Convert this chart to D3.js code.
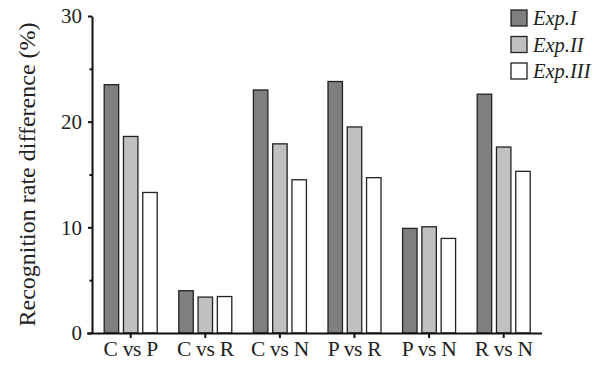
<!DOCTYPE html>
<html>
<head>
<meta charset="utf-8">
<script src="https://cdn.jsdelivr.net/npm/d3@7"></script>
<style>
  body { margin: 0; background: #fff; }
  svg { display: block; }
  text { font-family: "Liberation Serif", "Times New Roman", serif; fill: #222; }
</style>
</head>
<body>
<div id="chart"></div>
<script>
const width = 603;
const height = 365;

// data
const categories = ["C vs P", "C vs R", "C vs N", "P vs R", "P vs N", "R vs N"];
const series = ["Exp.I", "Exp.II", "Exp.III"];
const expI = [23.5, 4.0, 23.0, 23.8, 9.9, 22.6];
const expII = [18.6, 3.4, 17.9, 19.5, 10.05, 17.6];
const expIII = [13.3, 3.45, 14.5, 14.7, 8.95, 15.3];
const yTicks = [0, 10, 20, 30];
const yMinorTicks = [5, 15, 25];
const fills = ["#7f7f7f", "#c0c0c0", "#ffffff"];

const values = [expI, expII, expIII];
const rows = categories.map((c, i) => ({
    cat: c,
    vals: series.map((s, j) => ({ key: s, value: values[j][i], color: fills[j] }))
}));

const svg = d3.select("#chart")
    .append("svg")
    .attr("width", width)
    .attr("height", height);

const y = d3.scaleLinear()
    .domain([0, 30])
    .range([333, 16]);

const x = d3.scaleBand()
    .domain(categories)
    .range([93.4, 541])
    .padding(0);

const xInner = d3.scaleBand()
    .domain(series)
    .range([-26.5, 26.5])
    .paddingInner(0.25);

// bars
const groups = svg.append("g")
    .selectAll("g")
    .data(rows)
    .enter().append("g")
    .attr("transform", d => `translate(${x(d.cat) + x.bandwidth() / 2},0)`);

groups.selectAll("rect")
    .data(d => d.vals)
    .enter().append("rect")
    .attr("x", d => xInner(d.key))
    .attr("width", xInner.bandwidth())
    .attr("y", d => y(d.value))
    .attr("height", d => y(0) - y(d.value))
    .attr("fill", d => d.color)
    .attr("stroke", "#222")
    .attr("stroke-width", 1.3);

// y axis
const yAxis = svg.append("g")
    .attr("transform", "translate(92,0)")
    .call(d3.axisLeft(y).tickValues(yTicks).tickSize(4).tickSizeOuter(0).tickPadding(6));
yAxis.select(".domain").attr("stroke", "#111").attr("stroke-width", 2);
yAxis.selectAll(".tick line").attr("stroke", "#111").attr("stroke-width", 2);
yAxis.selectAll(".tick text")
    .style("font-family", "'Liberation Serif', serif")
    .style("font-size", "21px")
    .attr("fill", "#222");

svg.append("g")
    .attr("transform", "translate(92,0)")
    .call(d3.axisLeft(y).tickValues(yMinorTicks).tickSize(2.5).tickFormat(""))
    .call(g => g.select(".domain").remove())
    .selectAll(".tick line").attr("stroke", "#111").attr("stroke-width", 2);

// x axis
const xAxis = svg.append("g")
    .attr("transform", `translate(0,${y(0)})`)
    .call(d3.axisBottom(x).tickSize(5).tickSizeOuter(0).tickPadding(3));
xAxis.select(".domain")
    .attr("d", "M87,0.5H542")
    .attr("stroke", "#111").attr("stroke-width", 2);
xAxis.selectAll(".tick line").attr("stroke", "#111").attr("stroke-width", 2);
xAxis.selectAll(".tick text")
    .style("font-family", "'Liberation Serif', serif")
    .style("font-size", "21.5px")
    .style("letter-spacing", "-0.3px")
    .attr("fill", "#222");

// y label
svg.append("text")
    .attr("transform", `translate(35,${(y(0) + y(30)) / 2}) rotate(-90)`)
    .attr("text-anchor", "middle")
    .style("font-size", "24px")
    .text("Recognition rate difference (%)");

// legend
const legend = svg.append("g")
    .attr("transform", "translate(511,10)")
    .selectAll("g")
    .data(series)
    .enter().append("g")
    .attr("transform", (d, i) => `translate(0,${i * 26.5})`);

legend.append("rect")
    .attr("width", 16)
    .attr("height", 16)
    .attr("fill", (d, i) => fills[i])
    .attr("stroke", "#222")
    .attr("stroke-width", 1.3);

legend.append("text")
    .attr("x", 22)
    .attr("y", 15)
    .style("font-size", "20.5px")
    .style("font-style", "italic")
    .text(d => d);
</script>
</body>
</html>
